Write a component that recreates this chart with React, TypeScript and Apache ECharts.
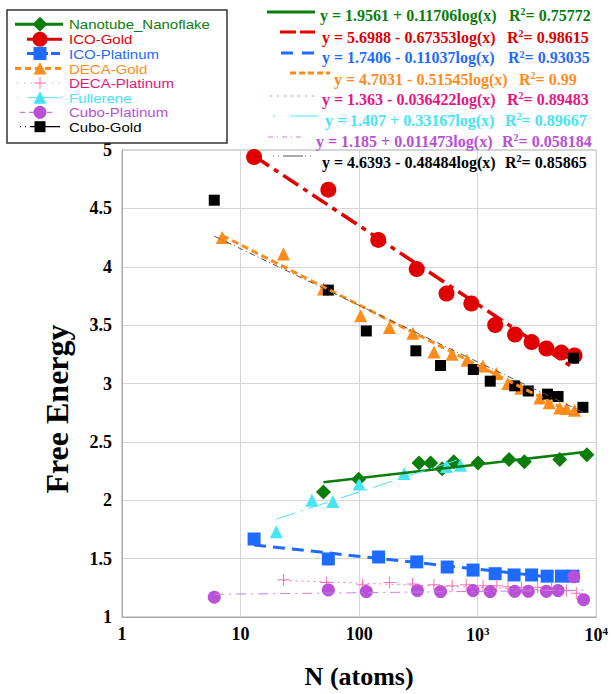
import { useEffect, useRef } from 'react';
import * as echarts from 'echarts';

const SERIF = "'Liberation Serif', 'Times New Roman', serif";
const SANS = "'Liberation Sans', Arial, sans-serif";

const seriesNames = ['Nanotube_Nanoflake', 'ICO-Gold', 'ICO-Platinum', 'DECA-Gold', 'DECA-Platinum', 'Fullerene', 'Cubo-Platinum', 'Cubo-Gold'];
const markerColors = ['#0b7d0b', '#e00000', '#1f6bff', '#ff8c1a', '#ff6fb5', '#48e4f4', '#b850d8', '#000000'];
const textColors = ['#0b7d0b', '#e00000', '#1f6bff', '#ff8c1a', '#e8157f', '#48e4f4', '#b850d8', '#000000'];

const nanoX = [50, 99, 320, 401, 502, 629, 1006, 1840, 2475, 4920, 8340];
const nanoY = [2.07, 2.18, 2.32, 2.32, 2.27, 2.33, 2.32, 2.35, 2.33, 2.35, 2.39];

const icoGoldX = [13, 55, 145, 306, 546, 884, 1404, 2065, 2850, 3800, 5080, 6560];
const icoGoldY = [4.94, 4.66, 4.23, 3.98, 3.77, 3.685, 3.5, 3.42, 3.355, 3.3, 3.265, 3.24];

const icoPtX = [13, 55, 146, 306, 553, 914, 1404, 2027, 2850, 3856, 5080, 6365];
const icoPtY = [1.668, 1.497, 1.514, 1.472, 1.428, 1.402, 1.371, 1.36, 1.36, 1.35, 1.35, 1.35];

const decaGoldX = [7, 23, 50, 103, 180, 284, 428, 609, 813, 1107, 1437, 1795, 2306, 3343, 4010, 4920, 5600, 6565];
const decaGoldY = [4.25, 4.11, 3.81, 3.58, 3.48, 3.43, 3.27, 3.25, 3.2, 3.15, 3.085, 3.0, 2.96, 2.875, 2.835, 2.79, 2.785, 2.77];

const decaPtX = [23, 53, 107, 180, 282, 428, 609, 800, 1110, 1450, 1800, 2340, 3200, 4200, 5600, 6800];
const decaPtY = [1.32, 1.296, 1.277, 1.296, 1.282, 1.277, 1.268, 1.277, 1.268, 1.268, 1.26, 1.254, 1.254, 1.24, 1.226, 1.204];

const fullX = [20, 40, 60, 100, 240, 545, 715];
const fullY = [1.73, 2.0, 1.99, 2.14, 2.23, 2.29, 2.3];

const cuboPtX = [6, 55, 115, 310, 486, 914, 1276, 2050, 2673, 3800, 4765, 6470, 7815];
const cuboPtY = [1.17, 1.232, 1.218, 1.226, 1.218, 1.226, 1.218, 1.22, 1.22, 1.22, 1.226, 1.344, 1.148];

const cuboGoldX = [6, 55, 115, 301, 486, 919, 1276, 2052, 2673, 3880, 4765, 6440, 7720];
const cuboGoldY = [4.57, 3.8, 3.45, 3.28, 3.154, 3.12, 3.02, 2.98, 2.936, 2.909, 2.889, 3.217, 2.796];

// Fit: y = a + b*log10(x)
const fitA = [1.9561, 5.6988, 1.7406, 4.7031, 1.363, 1.407, 1.185, 4.6393];
const fitB = [0.11706, -0.67353, -0.11037, -0.51545, -0.036422, 0.33167, 0.011473, -0.48484];
const fitEq = [
  'y = 1.9561 + 0.11706log(x)',
  'y = 5.6988 - 0.67353log(x)',
  'y = 1.7406 - 0.11037log(x)',
  'y = 4.7031 - 0.51545log(x)',
  'y = 1.363 - 0.036422log(x)',
  'y = 1.407 + 0.33167log(x)',
  'y = 1.185 + 0.011473log(x)',
  'y = 4.6393 - 0.48484log(x)',
];
const fitR2 = ['0.75772', '0.98615', '0.93035', '0.99', '0.89483', '0.89667', '0.058184', '0.85865'];

const xTickLabels = ['1', '10', '100', '10{sup|3}', '10{sup|4}'];
const yTicks = { min: 1, max: 5, interval: 0.5 };

const allX = [nanoX, icoGoldX, icoPtX, decaGoldX, decaPtX, fullX, cuboPtX, cuboGoldX];
const allY = [nanoY, icoGoldY, icoPtY, decaGoldY, decaPtY, fullY, cuboPtY, cuboGoldY];

const PLUS = 'path://M5.5,0h1v12h-1z M0,5.5h12v1h-12z';
const symbols = ['diamond', 'circle', 'rect', 'triangle', PLUS, 'triangle', 'circle', 'rect'];
const symbolSizes = [15, 16, 13, 13, 12, 13, 13, 11];

const fitLineStyles: any[] = [
  { width: 2.5, type: 'solid' },
  { width: 3.5, type: [18, 6, 5, 6] },
  { width: 3, type: [12, 7] },
  { width: 3, type: [7, 4] },
  { width: 1, type: [2, 4] },
  { width: 1, type: [20, 6, 2, 6] },
  { width: 1, type: [10, 5, 2, 5] },
  { width: 1, type: [6, 3, 1, 3] },
];
const fitLineColors = ['#0b7d0b', '#e00000', '#1f6bff', '#ff8c1a', '#ff6fb5', '#48e4f4', '#c77ee4', '#555555'];

function buildOption() {
  const series: any[] = [];
  for (let i = 0; i < 8; i++) {
    const xs = allX[i];
    const ys = allY[i];
    series.push({
      type: 'scatter',
      name: seriesNames[i],
      data: xs.map((x, k) => [x, ys[k]]),
      symbol: symbols[i],
      symbolSize: symbolSizes[i],
      itemStyle: { color: markerColors[i], opacity: 1 },
      z: 3,
    });
  }
  for (let i = 0; i < 8; i++) {
    const xs = allX[i];
    const x0 = Math.min(...xs);
    const x1 = Math.max(...xs);
    const f = (x: number) => fitA[i] + fitB[i] * Math.log10(x);
    series.push({
      type: 'line',
      name: seriesNames[i] + ' fit',
      data: [[x0, f(x0)], [x1, f(x1)]],
      symbol: 'none',
      lineStyle: { color: fitLineColors[i], ...fitLineStyles[i] },
      z: 4,
      silent: true,
    });
  }

  const graphic: any[] = [];
  // Legend box
  graphic.push({
    type: 'rect',
    shape: { x: 7, y: 10, width: 220, height: 133 },
    style: { fill: '#fff', stroke: '#333', lineWidth: 1.5 },
    z: 10,
  });
  const rowY = [24.3, 39.3, 53.5, 68.5, 83, 97.7, 112.3, 126.7];
  const legLines: any[] = [
    { x1: 15, x2: 63, w: 3, dash: null },
    { x1: 27, x2: 62, w: 3, dash: null },
    { x1: 27, x2: 60, w: 3, dash: [9, 3] },
    { x1: 15, x2: 63, w: 3, dash: [6, 4] },
    { x1: 17, x2: 62, w: 1, dash: [1, 6] },
    { x1: 17, x2: 62, w: 1, dash: [1, 10, 30, 2] },
    { x1: 20, x2: 56, w: 1, dash: [5, 4] },
    { x1: 20, x2: 60, w: 1.3, dash: [1, 4, 1, 4, 30, 2] },
  ];
  const mx = 40;
  for (let i = 0; i < 8; i++) {
    const y = rowY[i];
    const L = legLines[i];
    graphic.push({
      type: 'line',
      shape: { x1: L.x1, y1: y, x2: L.x2, y2: y },
      style: { stroke: i === 4 ? '#ff6fb5' : markerColors[i], lineWidth: L.w, lineDash: L.dash || undefined },
      z: 11,
    });
    const c = markerColors[i];
    let m: any;
    if (i === 0) m = { type: 'polygon', shape: { points: [[mx, y - 7.5], [mx + 7.5, y], [mx, y + 7.5], [mx - 7.5, y]] } };
    else if (i === 1) m = { type: 'circle', shape: { cx: mx, cy: y, r: 7.5 } };
    else if (i === 2) m = { type: 'rect', shape: { x: mx - 6.5, y: y - 6.5, width: 13, height: 13 } };
    else if (i === 3 || i === 5) m = { type: 'polygon', shape: { points: [[mx, y - 6.5], [mx + 6.5, y + 6], [mx - 6.5, y + 6]] } };
    else if (i === 4) m = null;
    else if (i === 6) m = { type: 'circle', shape: { cx: mx, cy: y, r: 6.5 } };
    else m = { type: 'rect', shape: { x: mx - 5.5, y: y - 5.5, width: 11, height: 11 } };
    if (m) {
      graphic.push({ ...m, style: { fill: c }, z: 12 });
    } else {
      graphic.push({ type: 'line', shape: { x1: mx - 6, y1: y, x2: mx + 6, y2: y }, style: { stroke: c, lineWidth: 1 }, z: 12 });
      graphic.push({ type: 'line', shape: { x1: mx, y1: y - 6, x2: mx, y2: y + 6 }, style: { stroke: c, lineWidth: 1 }, z: 12 });
    }
    graphic.push({
      type: 'text',
      x: 69,
      y: y + 0.5,
      scaleY: 0.87,
      style: { text: seriesNames[i], fill: textColors[i], font: `15px ${SANS}`, lineHeight: 13, verticalAlign: 'middle', align: 'left' },
      z: 12,
    });
  }

  // Equations legend
  const eqY = [15, 37, 57.5, 79, 99, 120, 141, 162];
  const eqX = [320, 322, 322, 334, 322, 325, 316, 322];
  const r2X = [509, 507, 508, 519, 507, 505, 502, 505];
  const sampleY = [12, 32, 53, 73, 96, 116, 137, 156];
  const sampleX = [[267, 315], [280, 315], [281, 315], [290, 330], [270, 317], [273, 318], [268, 305], [273, 313]];
  const sampleDash: any[] = [null, [16, 4], [12, 9], [6, 3], [2, 5], [2, 16, 30, 2], [5, 4, 1, 4], [1, 4, 1, 4, 20, 2]];
  const sampleW = [3, 3, 3, 3, 1, 1, 1, 1];
  for (let i = 0; i < 8; i++) {
    graphic.push({
      type: 'line',
      shape: { x1: sampleX[i][0], y1: sampleY[i], x2: sampleX[i][1], y2: sampleY[i] },
      style: { stroke: fitLineColors[i], lineWidth: sampleW[i], lineDash: sampleDash[i] || undefined },
      z: 11,
    });
    graphic.push({
      type: 'text',
      x: eqX[i],
      y: eqY[i],
      style: { text: fitEq[i], fill: textColors[i], font: `bold 16px ${SERIF}`, lineHeight: 17, verticalAlign: 'middle', align: 'left' },
      z: 12,
    });
    graphic.push({
      type: 'text',
      x: r2X[i],
      y: eqY[i],
      style: {
        text: 'R{s|2}= ' + fitR2[i],
        fill: textColors[i],
        font: `bold 16px ${SERIF}`,
        lineHeight: 17,
        verticalAlign: 'middle',
        align: 'left',
        rich: { s: { font: `bold 10px ${SERIF}`, fill: textColors[i], verticalAlign: 'top', padding: [0, 0, 6, 0] } },
      },
      z: 12,
    });
  }

  // Y axis title
  graphic.push({
    type: 'text',
    x: 57,
    y: 409,
    rotation: Math.PI / 2,
    style: { text: 'Free Energy', fill: '#000', font: `bold 32px ${SERIF}`, align: 'center', verticalAlign: 'middle' },
    z: 12,
  });

  return {
    animation: false,
    backgroundColor: '#fff',
    grid: { left: 122, right: 11, top: 150, bottom: 67, show: true, borderColor: '#aaa', borderWidth: 1 },
    xAxis: {
      type: 'log',
      logBase: 10,
      min: 1,
      max: 10000,
      name: 'N (atoms)',
      nameLocation: 'middle',
      nameGap: 46,
      nameTextStyle: { fontFamily: SERIF, fontWeight: 'bold', fontSize: 26, color: '#000' },
      axisLine: { lineStyle: { color: '#aaa' } },
      axisTick: { show: false },
      splitLine: { show: true, lineStyle: { color: '#d6d6d6' } },
      minorTick: { show: false },
      axisLabel: {
        margin: 8,
        fontFamily: SERIF,
        fontWeight: 'bold',
        fontSize: 18,
        color: '#000',
        formatter: (v: number) => xTickLabels[Math.round(Math.log10(v))] ?? '',
        rich: {
          sup: { fontFamily: SERIF, fontWeight: 'bold', fontSize: 11, color: '#000', verticalAlign: 'top', padding: [0, 0, 8, 0] },
        },
      },
    },
    yAxis: {
      type: 'value',
      min: yTicks.min,
      max: yTicks.max,
      interval: yTicks.interval,
      axisLine: { show: true, lineStyle: { color: '#aaa' } },
      axisTick: { show: false },
      splitLine: { show: true, lineStyle: { color: '#d6d6d6' } },
      axisLabel: { margin: 10, fontFamily: SERIF, fontWeight: 'bold', fontSize: 18, color: '#000' },
    },
    series,
    graphic,
  };
}

export default function App() {
  const ref = useRef<HTMLDivElement>(null);
  useEffect(() => {
    if (!ref.current) return;
    const chart = echarts.init(ref.current, null, { renderer: 'svg' });
    chart.setOption(buildOption() as any);
    return () => chart.dispose();
  }, []);
  return <div ref={ref} style={{ position: 'fixed', left: 0, top: 0, width: 611, height: 694 }} />;
}
